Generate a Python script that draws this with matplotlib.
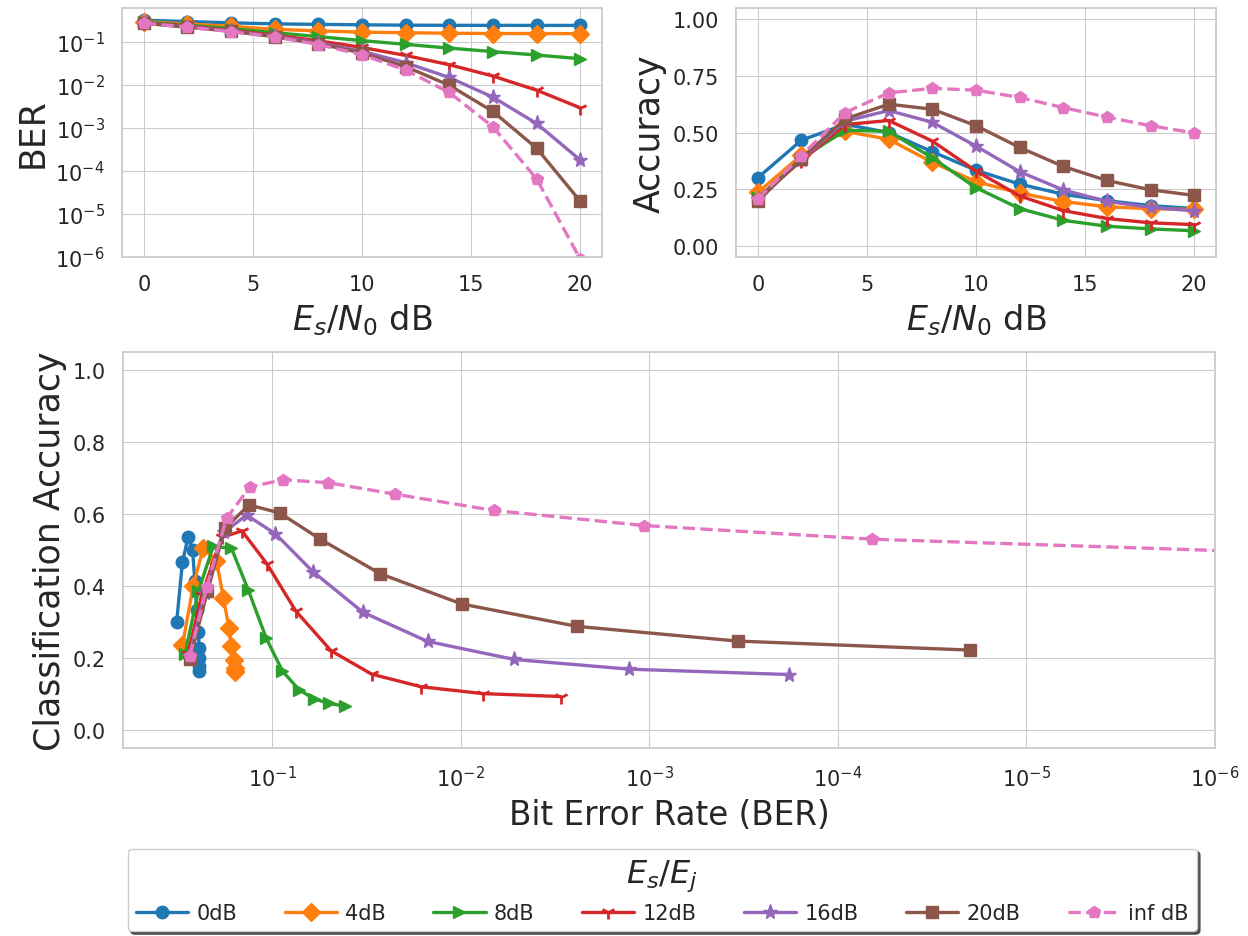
import matplotlib
matplotlib.use("Agg")
import matplotlib.pyplot as plt
import seaborn as sns

sns.set_style("whitegrid")
plt.rcParams['font.family'] = ['DejaVu Sans']

# ---- data ----
esn0 = [0, 2, 4, 6, 8, 10, 12, 14, 16, 18, 20]
labels = ["0dB", "4dB", "8dB", "12dB", "16dB", "20dB", "inf dB"]

ber_0 = [0.322, 0.300, 0.280, 0.265, 0.258, 0.252, 0.247, 0.245, 0.245, 0.244, 0.244]
ber_4 = [0.300, 0.263, 0.233, 0.198, 0.182, 0.170, 0.165, 0.160, 0.158, 0.158, 0.157]
ber_8 = [0.291, 0.247, 0.206, 0.165, 0.134, 0.108, 0.0885, 0.0723, 0.060, 0.050, 0.041]
ber_12 = [0.280, 0.237, 0.186, 0.145, 0.107, 0.075, 0.0488, 0.0297, 0.0162, 0.0076, 0.00296]
ber_16 = [0.276, 0.228, 0.180, 0.137, 0.0964, 0.061, 0.0331, 0.0150, 0.00522, 0.00128, 0.000181]
ber_20 = [0.274, 0.221, 0.179, 0.133, 0.0915, 0.0557, 0.0268, 0.00989, 0.00243, 0.000341, 1.99e-5]
ber_inf = [0.274, 0.223, 0.175, 0.132, 0.0877, 0.0507, 0.0223, 0.00671, 0.00107, 6.59e-5, 9e-7]

acc_0 = [0.300, 0.466, 0.536, 0.500, 0.415, 0.333, 0.272, 0.227, 0.199, 0.177, 0.164]
acc_4 = [0.235, 0.400, 0.505, 0.470, 0.368, 0.283, 0.232, 0.195, 0.172, 0.163, 0.160]
acc_8 = [0.210, 0.385, 0.510, 0.505, 0.388, 0.256, 0.164, 0.112, 0.086, 0.074, 0.066]
acc_12 = [0.210, 0.375, 0.535, 0.553, 0.462, 0.330, 0.220, 0.155, 0.120, 0.101, 0.093]
acc_16 = [0.205, 0.380, 0.550, 0.597, 0.545, 0.440, 0.327, 0.246, 0.196, 0.169, 0.154]
acc_20 = [0.197, 0.385, 0.560, 0.625, 0.603, 0.530, 0.434, 0.350, 0.288, 0.247, 0.222]
acc_inf = [0.206, 0.398, 0.588, 0.675, 0.695, 0.687, 0.655, 0.610, 0.568, 0.530, 0.498]

bers = [ber_0, ber_4, ber_8, ber_12, ber_16, ber_20, ber_inf]
accs = [acc_0, acc_4, acc_8, acc_12, acc_16, acc_20, acc_inf]

markers = ['o', 'D', '>', '1', '*', 's', 'p']
styles = ['-', '-', '-', '-', '-', '-', '--']
colors = plt.rcParams['axes.prop_cycle'].by_key()['color'][:7]

W, H = 1248, 937
fig = plt.figure(figsize=(W / 100, H / 100), dpi=100)

def px_axes(x0, y0, x1, y1):
    return fig.add_axes([x0 / W, 1 - y1 / H, (x1 - x0) / W, (y1 - y0) / H])

ax1 = px_axes(122, 9, 602, 258)
ax2 = px_axes(736, 9, 1216, 258)
ax3 = px_axes(123, 353, 1215, 749)

lw = 2.4
ms = 9
def mk(i):
    d = dict(color=colors[i], marker=markers[i], linestyle=styles[i], linewidth=lw,
             markersize=ms, label=labels[i])
    if markers[i] == '1':
        d['markersize'] = 10
        d['markeredgewidth'] = 2.0
    if markers[i] == '*':
        d['markersize'] = 11
    return d

for i in range(7):
    ax1.plot(esn0, bers[i], **mk(i))
    ax2.plot(esn0, accs[i], **mk(i))
    ax3.plot(bers[i], accs[i], **mk(i))

tick_fs = 15
lab_fs = 24

ax1.set_yscale('log')
ax1.set_ylim(1e-6, 0.62)
ax1.set_xlim(-1, 21)
ax1.set_xticks([0, 5, 10, 15, 20])
ax1.set_yticks([1e-6, 1e-5, 1e-4, 1e-3, 1e-2, 1e-1])
ax1.minorticks_off()
ax1.set_ylabel("BER", fontsize=25)
ax1.set_xlabel(r"$E_s/N_0$ dB", fontsize=lab_fs, labelpad=5)

ax2.set_ylim(-0.05, 1.05)
ax2.set_xlim(-1, 21)
ax2.set_xticks([0, 5, 10, 15, 20])
ax2.set_yticks([0.0, 0.25, 0.5, 0.75, 1.0])
ax2.set_ylabel("Accuracy", fontsize=25)
ax2.set_xlabel(r"$E_s/N_0$ dB", fontsize=lab_fs, labelpad=5)

ax3.set_xscale('log')
ax3.set_xlim(0.62, 1e-6)
ax3.set_ylim(-0.05, 1.05)
ax3.set_xticks([1e-1, 1e-2, 1e-3, 1e-4, 1e-5, 1e-6])
ax3.minorticks_off()
ax3.set_yticks([0.0, 0.2, 0.4, 0.6, 0.8, 1.0])
ax3.set_ylabel("Classification Accuracy", fontsize=25)
ax3.set_xlabel("Bit Error Rate (BER)", fontsize=23.5, labelpad=5)

for ax in (ax1, ax2, ax3):
    ax.tick_params(labelsize=tick_fs, length=9, pad=3.5)
    for s in ax.spines.values():
        s.set_linewidth(1.3)

leg = ax3.legend(loc='upper center', bbox_to_anchor=(0.494, -0.228), ncol=7,
                 title=r"$E_s/E_j$", title_fontsize=23, fontsize=15,
                 frameon=True, shadow={'color': '0.3', 'alpha': 1.0}, fancybox=True,
                 columnspacing=2.28, handlelength=2.5, handletextpad=0.4,
                 borderpad=0.4)
leg.get_frame().set_edgecolor('0.8')

fig.savefig("out.png", dpi=100)
